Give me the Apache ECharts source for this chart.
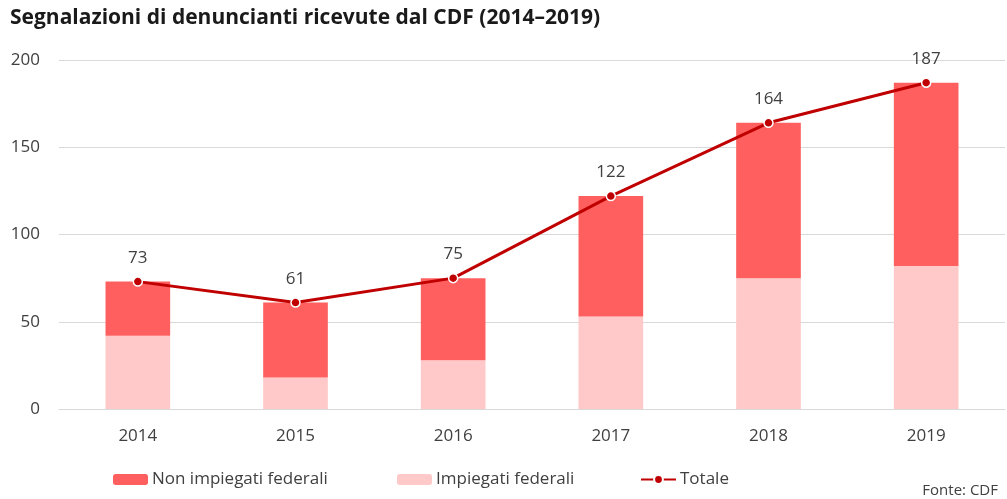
<!DOCTYPE html>
<html>
<head>
<meta charset="utf-8">
<script src="https://cdn.jsdelivr.net/npm/echarts@6/dist/echarts.min.js"></script>
<style>
	html, body { margin: 0; padding: 0; background: #fff; }
	#chart { width: 1007px; height: 499px; }
</style>
</head>
<body>
<div id="chart"></div>
<script>
var years = ['2014', '2015', '2016', '2017', '2018', '2019'];
var impiegati = [42, 18, 28, 53, 75, 82];
var nonImpiegati = [31, 43, 47, 69, 89, 105];
var totale = [73, 61, 75, 122, 164, 187];
var yTicks = [0, 50, 100, 150, 200];

var font = 'Open Sans';
var textColor = '#404040';

function legendAt(left, name){
	return {
		left: left,
		top: 466,
		itemWidth: 35,
		itemHeight: 11,
		itemGap: 0,
		data: [name],
		textStyle: { fontFamily: font, fontSize: 17, color: textColor, padding: [0, 0, 0, -1] }
	};
}

var chart = echarts.init(document.getElementById('chart'));
chart.setOption({
	animation: false,
	textStyle: { fontFamily: font },
	title: [{
		text: 'Segnalazioni di denuncianti ricevute dal CDF (2014–2019)',
		left: 5, top: 3,
		textStyle: { fontFamily: font, fontSize: 21, fontWeight: 'bold', color: '#1a1a1a' }
	}, {
		text: 'Fonte: CDF',
		right: 4, top: 478,
		textStyle: { fontFamily: font, fontSize: 15, fontWeight: 'normal', color: textColor }
	}],
	legend: [
		legendAt(108, 'Non impiegati federali'),
		legendAt(392, 'Impiegati federali'),
		legendAt(635, 'Totale')
	],
	grid: { left: 59, right: 2, top: 60, bottom: 90 },
	xAxis: {
		type: 'category',
		data: years,
		axisLine: { lineStyle: { color: '#d9d9d9' } },
		axisTick: { show: false },
		axisLabel: { fontFamily: font, fontSize: 17, color: textColor, margin: 19 }
	},
	yAxis: {
		type: 'value',
		min: yTicks[0], max: yTicks[yTicks.length - 1], interval: 50,
		axisLine: { show: false },
		axisTick: { show: false },
		splitLine: { lineStyle: { color: '#d9d9d9' } },
		axisLabel: { fontFamily: font, fontSize: 17, color: textColor, margin: 19 }
	},
	series: [{
		name: 'Impiegati federali',
		type: 'bar',
		stack: 'tot',
		data: impiegati,
		barCategoryGap: '59%',
		itemStyle: { color: '#ffc9c9' }
	}, {
		name: 'Non impiegati federali',
		type: 'bar',
		stack: 'tot',
		data: nonImpiegati,
		itemStyle: { color: '#ff5f5f' }
	}, {
		name: 'Totale',
		type: 'line',
		data: totale,
		symbol: 'circle',
		symbolSize: 9,
		lineStyle: { color: '#c00000', width: 3 },
		itemStyle: { color: '#c00000', borderColor: '#fff', borderWidth: 1.5 },
		label: { show: true, position: 'top', distance: 10, fontFamily: font, fontSize: 17, color: textColor },
		z: 5
	}]
});
</script>
</body>
</html>
